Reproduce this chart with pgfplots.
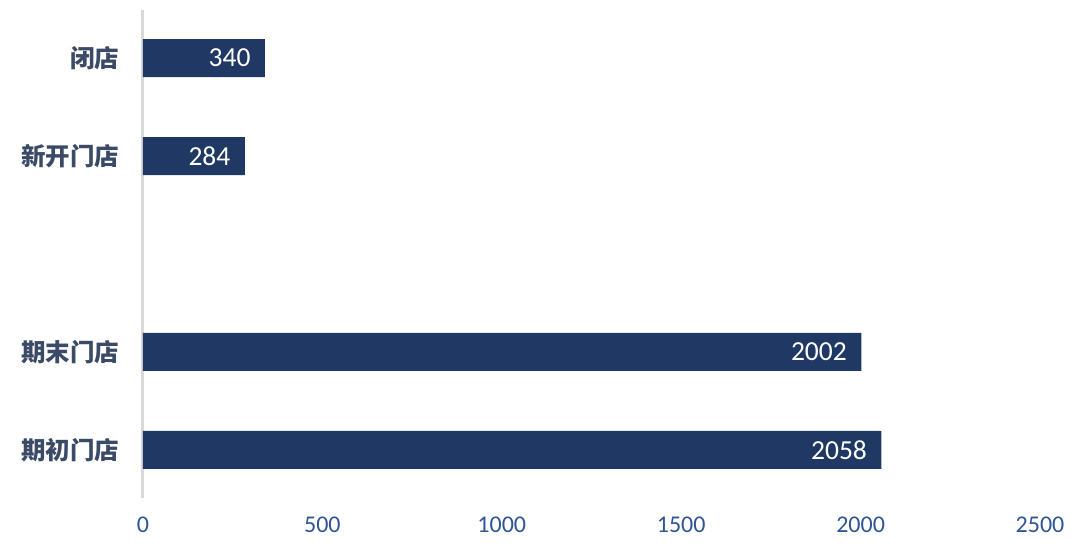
\documentclass[border=0pt]{standalone}
\usepackage{pgfplots}
\pgfplotsset{compat=1.18}
\usepackage{fontspec}
\setmainfont{Carlito}
\newfontfamily\cjk{Noto Sans CJK SC}
\definecolor{barblue}{HTML}{203864}
\definecolor{tickblue}{HTML}{2F5597}
\definecolor{catcol}{HTML}{3B4A66}
\definecolor{axgray}{HTML}{D9D9D9}
\begin{document}
\begin{tikzpicture}[x=1pt,y=1pt]
\useasboundingbox (0,0) rectangle (1080,552);
\begin{axis}[
  at={(143pt,54pt)}, anchor=south west,
  scale only axis, width=897pt, height=488pt,
  xmin=0, xmax=2500, ymin=-0.49, ymax=4.49,
  xtick={0,500,1000,1500,2000,2500},
  ytick={0,1,3,4},
  yticklabels={期初门店,期末门店,新开门店,闭店},
  axis x line*=bottom, axis y line*=left,
  x axis line style={draw=none},
  every outer y axis line/.append style={draw=axgray, line width=3pt, -},
  major tick length=0pt,
  xticklabel style={font=\fontsize{24}{28}\selectfont, text=tickblue, yshift=-15pt},
  yticklabel style={font=\cjk\bfseries\fontsize{24.5}{28}\selectfont, text=catcol, xshift=-20pt},
  /pgf/number format/assume math mode=true,
  /pgf/number format/1000 sep={},
  scaled x ticks=false,
  xbar, bar width=38pt,
  nodes near coords,
  nodes near coords style={anchor=east, font=\fontsize{27.5}{32}\selectfont, text=white, xshift=-11pt,
    /pgf/number format/1000 sep={}},
  clip=false,
]
\addplot[fill=barblue, draw=none] coordinates {(2058,0) (2002,1) (284,3) (340,4)};
\end{axis}
\end{tikzpicture}
\end{document}
